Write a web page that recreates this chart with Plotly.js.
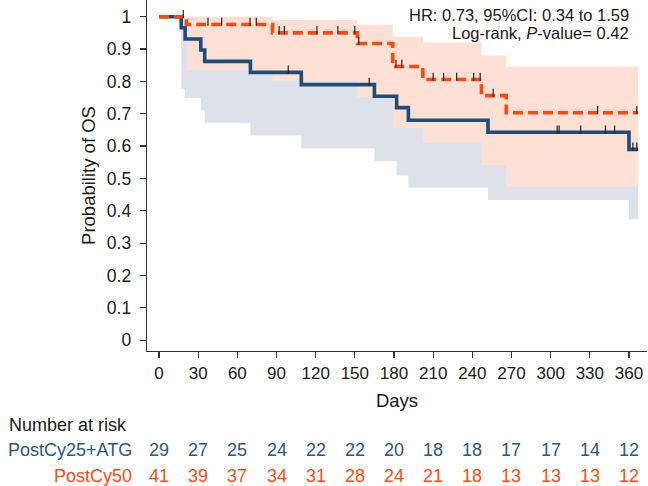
<!DOCTYPE html>
<html>
<head>
<meta charset="utf-8">
<script src="https://cdn.plot.ly/plotly-3.0.1.min.js"></script>
<style>html,body{margin:0;padding:0;background:#fff;}#chart{width:648px;height:486px;}</style>
</head>
<body>
<div id="chart"></div>
<script>
// PostCy25+ATG (blue)
var blueTimes = [0, 17, 20, 32, 35, 70, 109, 165, 182, 191, 252, 360, 367];
var blueSurv  = [1, 0.966, 0.931, 0.897, 0.862, 0.828, 0.79, 0.754, 0.719, 0.68, 0.643, 0.59, 0.59];
var blueLower = [1, 0.777, 0.749, 0.711, 0.672, 0.633, 0.593, 0.553, 0.509, 0.471, 0.433, 0.373, 0.373];
var blueUpper = [1, 0.995, 0.98, 0.965, 0.947, 0.925, 0.9, 0.875, 0.85, 0.82, 0.79, 0.755, 0.755];
var blueCensor = [99, 161, 305, 306.5, 323, 342, 349, 363, 366];

// PostCy50 (orange)
var orangeTimes = [0, 21, 87, 152, 179, 202, 247, 266, 367];
var orangeSurv  = [1, 0.976, 0.95, 0.917, 0.846, 0.806, 0.756, 0.703, 0.703];
var orangeLower = [1, 0.834, 0.802, 0.751, 0.656, 0.61, 0.541, 0.474, 0.474];
var orangeUpper = [1, 1.0, 0.99, 0.975, 0.937, 0.92, 0.88, 0.845, 0.845];
var orangeCensor = [18.6, 37.5, 48, 69.7, 74.5, 92, 96, 121, 137, 150, 153, 181.5, 186, 210, 218, 228, 241, 246, 256, 336, 366];

// Axis ticks
var xTicks = [0, 30, 60, 90, 120, 150, 180, 210, 240, 270, 300, 330, 360];
var yTicks = [0, 0.1, 0.2, 0.3, 0.4, 0.5, 0.6, 0.7, 0.8, 0.9, 1];
var yTickText = ["0", "0.1", "0.2", "0.3", "0.4", "0.5", "0.6", "0.7", "0.8", "0.9", "1"];

// Number at risk
var groupNames = ["PostCy25+ATG", "PostCy50"];
var riskBlue   = [29, 27, 25, 24, 22, 22, 20, 18, 18, 17, 17, 14, 12];
var riskOrange = [41, 39, 37, 34, 31, 28, 24, 21, 18, 13, 13, 13, 12];

var HR_TEXT = "HR: 0.73, 95%CI: 0.34 to 1.59";
var LR_TEXT = "Log-rank, <i>P</i>-value= 0.42";

var BLUE = "#1f4b78", ORANGE = "#ff4a0c";
var BLUE_TXT = "#2b5785", ORANGE_TXT = "#ff4d12";
var GREY_FILL = "#dde2ea", PINK_FILL = "#fee0d5";
var FONT = "Liberation Sans, Arial, Helvetica, sans-serif";

function stepValue(times, surv, t) {
  var v = surv[0];
  for (var i = 0; i < times.length; i++) { if (times[i] <= t) v = surv[i]; }
  return v;
}

// plot area pixel geometry (margins) for annotation positioning
var ML = 147, MT = 0, PW = 500, PH = 351;
function py(Y) { return (MT + PH - Y) / PH; }
function px(X) { return (X - ML) / PW; }

// censor tick style: short vertical mark rising above the curve
var censorTick = {type: "constant", symmetric: false, value: 0.021, valueminus: 0.004, width: 0, thickness: 1.2, color: "#222"};

var traces = [
  {x: blueTimes, y: blueLower, mode: "lines", line: {shape: "hv", width: 0, color: GREY_FILL}, hoverinfo: "skip", showlegend: false},
  {x: blueTimes, y: blueUpper, mode: "lines", line: {shape: "hv", width: 0, color: GREY_FILL}, fill: "tonexty", fillcolor: GREY_FILL, hoverinfo: "skip", showlegend: false},
  {x: orangeTimes, y: orangeLower, mode: "lines", line: {shape: "hv", width: 0, color: PINK_FILL}, hoverinfo: "skip", showlegend: false},
  {x: orangeTimes, y: orangeUpper, mode: "lines", line: {shape: "hv", width: 0, color: PINK_FILL}, fill: "tonexty", fillcolor: PINK_FILL, hoverinfo: "skip", showlegend: false},
  {x: blueTimes, y: blueSurv, mode: "lines", line: {shape: "hv", width: 3.6, color: BLUE}, showlegend: false},
  {x: orangeTimes, y: orangeSurv, mode: "lines", line: {shape: "hv", width: 3.6, color: ORANGE, dash: "10px,5px"}, showlegend: false},
  {x: blueCensor, y: blueCensor.map(function(t){return stepValue(blueTimes, blueSurv, t);}), mode: "markers",
   marker: {size: 1, color: "rgba(0,0,0,0)"}, error_y: censorTick, showlegend: false},
  {x: orangeCensor, y: orangeCensor.map(function(t){return stepValue(orangeTimes, orangeSurv, t);}), mode: "markers",
   marker: {size: 1, color: "rgba(0,0,0,0)"}, error_y: censorTick, showlegend: false}
];

var ann = [
  {xref: "paper", yref: "paper", x: px(631), y: py(15), xanchor: "right", yanchor: "middle", text: HR_TEXT, showarrow: false, font: {family: FONT, size: 16.5, color: "#1a1a1a"}},
  {xref: "paper", yref: "paper", x: px(631), y: py(33), xanchor: "right", yanchor: "middle", text: LR_TEXT, showarrow: false, font: {family: FONT, size: 16.5, color: "#1a1a1a"}},
  {xref: "paper", yref: "paper", x: px(7), y: py(425), xanchor: "left", yanchor: "middle", text: "Number at risk", showarrow: false, font: {family: FONT, size: 18, color: "#1a1a1a"}},
  {xref: "paper", yref: "paper", x: px(134), y: py(450), xanchor: "right", yanchor: "middle", text: groupNames[0], showarrow: false, font: {family: FONT, size: 18, color: BLUE_TXT}},
  {xref: "paper", yref: "paper", x: px(134), y: py(476), xanchor: "right", yanchor: "middle", text: groupNames[1], showarrow: false, font: {family: FONT, size: 18, color: ORANGE_TXT}}
];
xTicks.forEach(function(t, i) {
  ann.push({xref: "x", yref: "paper", x: t, y: py(450), xanchor: "center", yanchor: "middle", text: String(riskBlue[i]), showarrow: false, font: {family: FONT, size: 18, color: BLUE_TXT}});
  ann.push({xref: "x", yref: "paper", x: t, y: py(476), xanchor: "center", yanchor: "middle", text: String(riskOrange[i]), showarrow: false, font: {family: FONT, size: 18, color: ORANGE_TXT}});
});

var layout = {
  width: 648, height: 486,
  margin: {l: ML, r: 648 - ML - PW, t: MT, b: 486 - MT - PH, pad: 0},
  paper_bgcolor: "#fff", plot_bgcolor: "#fff",
  font: {family: FONT, color: "#1a1a1a"},
  xaxis: {
    range: [-9.2, 373.8], tickmode: "array", tickvals: xTicks,
    showgrid: false, zeroline: false, showline: true, linecolor: "#333", linewidth: 1.3,
    ticks: "outside", ticklen: 6, tickcolor: "#333", tickwidth: 1.2,
    tickfont: {family: FONT, size: 17, color: "#1a1a1a"},
    title: {text: "Days", font: {family: FONT, size: 18.5, color: "#1a1a1a"}, standoff: 12}
  },
  yaxis: {
    range: [-0.0334, 1.0516], tickmode: "array", tickvals: yTicks, ticktext: yTickText,
    showgrid: false, zeroline: false, showline: true, linecolor: "#333", linewidth: 1.3,
    ticks: "outside", ticklen: 6, tickcolor: "#333", tickwidth: 1.2, ticklabelstandoff: 5,
    tickfont: {family: FONT, size: 17.5, color: "#1a1a1a"},
    title: {text: "Probability of OS", font: {family: FONT, size: 18.5, color: "#1a1a1a"}, standoff: 6}
  },
  annotations: ann,
  showlegend: false
};

Plotly.newPlot("chart", traces, layout, {staticPlot: true, displayModeBar: false});
</script>
</body>
</html>
